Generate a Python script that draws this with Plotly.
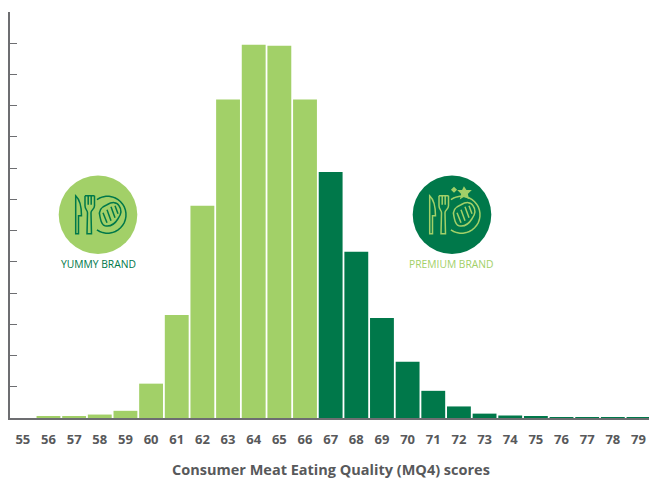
import re
import numpy as np
import plotly.graph_objects as go

yummy_scores = [56, 57, 58, 59, 60, 61, 62, 63, 64, 65, 66]
yummy_values = [0.05, 0.05, 0.11, 0.23, 1.1, 3.3, 6.8, 10.2, 11.95, 11.92, 10.2]
premium_scores = [67, 68, 69, 70, 71, 72, 73, 74, 75, 76, 77, 78, 79]
premium_values = [7.88, 5.32, 3.2, 1.8, 0.87, 0.37, 0.14, 0.08, 0.05, 0.015, 0.015, 0.015, 0.01]
tick_labels = list(range(55, 80))
x_title = "Consumer Meat Eating Quality (MQ4) scores"
left_label = "YUMMY BRAND"
right_label = "PREMIUM BRAND"

LIGHT = "#a2d068"
DARK = "#00784a"
GREY = "#6d6e71"
TEXT = "#58595b"
FONT = "Open Sans"
W, H = 649, 481
L, R, T, B = 10, 0, 12, 62.5


def fx(x):
    return (x - L) / (W - L - R)


def fy(y):
    return 1 - (y - T) / (H - T - B)


def path(d, cx, cy):
    res, i = [], 0
    for tok in re.findall(r"[MLCQZ]|-?\d+\.?\d*", d):
        if tok in "MLCQZ":
            res.append(tok)
        else:
            v = float(tok)
            res.append(f"{fx(cx + v):.5f}" if i % 2 == 0 else f"{fy(cy + v):.5f}")
            i += 1
    return " ".join(res)


def icon(cx, cy, bg, fg, star=False):
    shapes = [dict(type="circle", xref="paper", yref="paper", x0=fx(cx - 39.3), x1=fx(cx + 39.3),
                   y0=fy(cy + 39.3), y1=fy(cy - 39.3), fillcolor=bg, line_width=0, layer="above")]
    t = np.radians(np.arange(-125, 126, 10))
    arc = "M " + " L ".join(f"{9.5 + 18.5 * np.cos(a):.2f} {18.5 * np.sin(a):.2f}" for a in t)
    parts = [
        "M -22.3 -19 C -18 -15 -16.5 -8 -16.5 1 L -19.5 1 L -19.5 19 L -22.3 19 Z",
        "M -13 -19 L -13 -9 C -13 -5 -10.5 -5 -10.5 -2 L -11 19 L -6.5 19 L -7 -2 "
        "C -7 -5 -3.5 -5 -3.5 -9 L -3.5 -19",
        "M -9.8 -19 L -9.8 -10 M -6.8 -19 L -6.8 -10 M -13 -19 L -3.5 -19",
        arc,
        "M 2 2 C 0 -4 4 -8 9 -10 C 14 -13 19 -13 21 -9 C 24 -5 23 0 20 4 C 17 9 12 12 7 11 C 3 10 3 6 2 2 Z",
        "M 5 -2 L 9 8 M 9 -5 L 13 6 M 13 -8 L 17 3 M 17 -9 L 20 -1",
    ]
    if star:
        parts.append("M 12 -27 L 14 -24 L 18 -24 L 15 -21 L 16 -17 L 12 -19 L 9 -17 L 10 -21 L 7 -24 L 10.5 -24 Z")
        parts.append("M 2 -27 L 4 -25 L 2 -23 L 0 -25 Z")
    for n, d in enumerate(parts):
        filled = star and n >= 6
        shapes.append(dict(type="path", xref="paper", yref="paper", path=path(d, cx, cy),
                           fillcolor=fg if filled else "rgba(0,0,0,0)",
                           line=dict(color=fg, width=1.5), layer="above"))
    return shapes


fig = go.Figure()
fig.add_bar(x=yummy_scores, y=yummy_values, marker=dict(color=LIGHT, line_width=0), width=0.93, name="Yummy")
fig.add_bar(x=premium_scores, y=premium_values, marker=dict(color=DARK, line_width=0), width=0.93, name="Premium")

fig.update_layout(
    width=W, height=H, margin=dict(l=L, r=R, t=T, b=B, pad=0, autoexpand=False),
    paper_bgcolor="white", plot_bgcolor="white", showlegend=False, barmode="overlay",
    font=dict(family=FONT, color=TEXT),
    shapes=icon(98, 215, LIGHT, DARK) + icon(452, 215, DARK, LIGHT, star=True),
    annotations=[
        dict(text=left_label, xref="paper", yref="paper", x=fx(98.5), y=fy(264.5), showarrow=False,
             xanchor="center", yanchor="middle", font=dict(size=10.3, color=DARK, family=FONT)),
        dict(text=right_label, xref="paper", yref="paper", x=fx(451.5), y=fy(264.5), showarrow=False,
             xanchor="center", yanchor="middle", font=dict(size=10.3, color=LIGHT, family=FONT)),
        dict(text=x_title, xref="paper", yref="paper", x=fx(330.5), y=fy(470.5), showarrow=False,
             xanchor="center", yanchor="middle",
             font=dict(size=14.5, color=TEXT, family=FONT, weight=700)),
    ],
)
fig.update_xaxes(
    range=[54.5, 79.41], tickmode="array", tickvals=tick_labels, ticktext=[str(v) for v in tick_labels],
    ticks="", showgrid=False, zeroline=False, showline=True, linecolor=GREY, linewidth=1.5,
    ticklabelstandoff=9,
    tickfont=dict(size=13, color=TEXT, family=FONT, weight=700),
)
fig.update_yaxes(
    range=[0, 13], dtick=1, ticks="inside", ticklen=7, tickwidth=1, tickcolor=GREY,
    showticklabels=False, showgrid=False, zeroline=False, showline=True, linecolor=GREY, linewidth=2,
)
fig.write_html("out.html", config={"displayModeBar": False}, post_script="document.body.style.margin='0';")
